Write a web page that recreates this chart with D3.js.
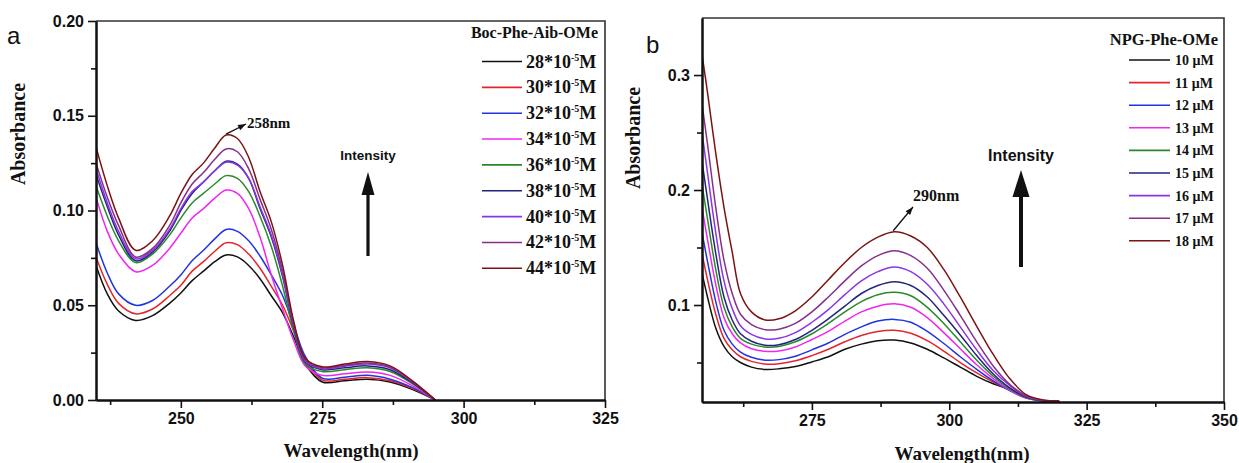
<!DOCTYPE html>
<html><head><meta charset="utf-8">
<script src="https://cdn.jsdelivr.net/npm/d3@7"></script>
<style>body{margin:0;background:#fff}</style>
</head><body>
<svg id="fig" width="1239" height="463"></svg>
<script>
// ---- Panel a: Boc-Phe-Aib-OMe UV spectra ----
const wavelengthsA = [235, 237, 239, 242, 245, 248, 250, 252, 254, 256, 258, 260, 262, 264, 266, 268, 270, 272, 275, 279, 283, 287, 291, 295];
const boc28 = [.071, .056, .047, .042, .0445, .051, .0565, .063, .068, .073, .0765, .0755, .071, .064, .055, .046, .033, .019, .0095, .0102, .011, .0095, .0055, 0];
const boc30 = [.0755, .061, .051, .0455, .048, .055, .0605, .068, .073, .0785, .083, .082, .077, .0695, .060, .050, .036, .021, .0105, .011, .0118, .0102, .006, 0];
const boc32 = [.083, .067, .056, .050, .0525, .060, .066, .0735, .079, .085, .090, .089, .084, .076, .066, .055, .039, .023, .0115, .012, .013, .011, .0065, 0];
const boc34 = [.107, .089, .077, .0677, .071, .080, .088, .096, .101, .1065, .1108, .109, .101, .086, .066, .048, .031, .018, .013, .0138, .0148, .013, .0075, 0];
const boc36 = [.113, .097, .084, .0725, .077, .087, .096, .104, .109, .114, .1184, .117, .110, .097, .081, .060, .036, .019, .015, .016, .017, .015, .0085, 0];
const boc38 = [.119, .102, .087, .0735, .078, .089, .100, .109, .115, .121, .126, .1245, .117, .101, .086, .065, .038, .020, .016, .017, .018, .016, .009, 0];
const boc40 = [.122, .104, .089, .0745, .079, .090, .101, .110, .115, .121, .1255, .124, .117, .102, .087, .066, .039, .0205, .0165, .0178, .019, .017, .0095, 0];
const boc42 = [.125, .107, .092, .0755, .080, .092, .104, .114, .120, .127, .1325, .131, .122, .106, .090, .068, .040, .021, .017, .0183, .0195, .0173, .0097, 0];
const boc44 = [.1335, .113, .096, .079, .084, .097, .109, .119, .125, .133, .1398, .138, .128, .110, .094, .071, .041, .022, .0175, .019, .0203, .018, .010, 0];
const seriesA = [boc28, boc30, boc32, boc34, boc36, boc38, boc40, boc42, boc44];
const legendA = ["28", "30", "32", "34", "36", "38", "40", "42", "44"];
const xTicksA = [250, 275, 300, 325];
const xMinorA = [237.5, 262.5, 287.5, 312.5];
const yTicksA = [0, 0.05, 0.10, 0.15, 0.20];
const yMinorA = [0.025, 0.075, 0.125, 0.175];

// ---- Panel b: NPG-Phe-OMe UV spectra ----
const wavelengthsB = [255, 256, 257.5, 259, 260.5, 262, 264, 266.5, 269, 272, 275, 278, 281, 284, 287, 290, 293, 296, 299, 302, 305, 308, 311, 314, 317, 320];
const npg10 = [.128, .107, .080, .064, .055, .050, .046, .044, .0445, .0465, .0505, .055, .0615, .066, .069, .0695, .067, .0615, .054, .046, .038, .0315, .0265, .0205, .0172, .0165];
const npg11 = [.145, .122, .092, .071, .061, .055, .051, .0487, .049, .0515, .056, .0615, .068, .0735, .077, .078, .0755, .069, .060, .050, .041, .033, .026, .020, .017, .0162];
const npg12 = [.163, .138, .103, .078, .066, .059, .0545, .052, .0525, .0555, .061, .067, .0745, .081, .086, .0875, .085, .077, .0665, .055, .044, .034, .0255, .019, .0165, .016];
const npg13 = [.185, .157, .118, .089, .075, .067, .062, .0597, .060, .0635, .070, .077, .086, .094, .099, .101, .098, .089, .076, .062, .048, .036, .026, .019, .0165, .016];
const npg14 = [.205, .175, .131, .098, .081, .071, .066, .0635, .064, .068, .075, .084, .094, .103, .109, .111, .108, .098, .084, .068, .052, .038, .027, .0195, .0165, .016];
const npg15 = [.225, .192, .145, .107, .087, .075, .0685, .065, .0655, .070, .078, .088, .099, .110, .117, .1203, .117, .107, .091, .074, .056, .040, .028, .020, .0168, .016];
const npg16 = [.250, .215, .163, .121, .097, .082, .0745, .0705, .071, .076, .085, .096, .109, .121, .129, .133, .129, .118, .101, .081, .061, .043, .030, .0205, .017, .016];
const npg17 = [.275, .240, .185, .139, .110, .092, .083, .0785, .079, .084, .094, .107, .121, .134, .143, .1472, .143, .132, .113, .091, .068, .047, .031, .021, .017, .0162];
const npg18 = [.318, .285, .232, .185, .146, .110, .094, .087, .088, .095, .107, .122, .137, .150, .159, .1637, .160, .150, .131, .107, .0815, .057, .036, .022, .0175, .0165];
const seriesB = [npg10, npg11, npg12, npg13, npg14, npg15, npg16, npg17, npg18];
const legendB = ["10", "11", "12", "13", "14", "15", "16", "17", "18"];
const xTicksB = [275, 300, 325, 350];
const xMinorB = [262.5, 287.5, 312.5, 337.5];
const yTicksB = [0.1, 0.2, 0.3];
const yMinorB = [0.05, 0.15, 0.25];

// Line colours shared by both panels (low to high concentration)
const lineColors = ["#111111", "#e3262b", "#2233e0", "#f026f0", "#2a8a2a", "#23237e", "#8a35e6", "#86308a", "#7a1414"];

const SERIF = "'Liberation Serif', 'Times New Roman', serif";
const SANS = "'Liberation Sans', Arial, sans-serif";
const svg = d3.select("#fig");

function drawPanel(cfg) {
  const x = d3.scaleLinear().domain(cfg.xDomain).range([cfg.left, cfg.right]);
  const y = d3.scaleLinear().domain(cfg.yDomain).range([cfg.bottom, cfg.top]);
  const g = svg.append("g");

  const clipId = "clip-" + cfg.id;
  g.append("clipPath").attr("id", clipId).append("rect")
    .attr("x", cfg.left).attr("y", cfg.top)
    .attr("width", cfg.right - cfg.left).attr("height", cfg.bottom - cfg.top);

  // spectra
  const line = d3.line().x((d, i) => x(cfg.wl[i])).y(d => y(d)).curve(d3.curveCatmullRom.alpha(0.5));
  g.append("g").attr("clip-path", `url(#${clipId})`)
    .selectAll("path").data(cfg.series).join("path")
    .attr("d", line).attr("fill", "none")
    .attr("stroke", (d, i) => lineColors[i]).attr("stroke-width", 1.5);

  // frame top/right
  g.append("path")
    .attr("d", `M${cfg.left},${cfg.top}H${cfg.right}V${cfg.bottom}`)
    .attr("fill", "none").attr("stroke", "#333").attr("stroke-width", 1.6);

  // axes
  const styleAxis = sel => {
    sel.select(".domain").attr("stroke", "#111").attr("stroke-width", 2);
    sel.selectAll(".tick line").attr("stroke", "#111").attr("stroke-width", 1.6);
    sel.selectAll(".tick text").attr("font-family", SANS).attr("font-weight", "bold")
      .attr("font-size", 16).attr("fill", "#111");
  };
  const xa = g.append("g").attr("transform", `translate(0,${cfg.bottom})`)
    .call(d3.axisBottom(x).tickValues(cfg.xTicks).tickSize(8).tickSizeOuter(0).tickPadding(5).tickFormat(d3.format("d")));
  styleAxis(xa);
  const xm = g.append("g").attr("transform", `translate(0,${cfg.bottom})`)
    .call(d3.axisBottom(x).tickValues(cfg.xMinor).tickSize(5).tickSizeOuter(0).tickFormat(""));
  styleAxis(xm);
  const ya = g.append("g").attr("transform", `translate(${cfg.left},0)`)
    .call(d3.axisLeft(y).tickValues(cfg.yTicks).tickSize(8).tickSizeOuter(0).tickPadding(4).tickFormat(d3.format(cfg.yFormat)));
  styleAxis(ya);
  const ym = g.append("g").attr("transform", `translate(${cfg.left},0)`)
    .call(d3.axisLeft(y).tickValues(cfg.yMinor).tickSize(5).tickSizeOuter(0).tickFormat(""));
  styleAxis(ym);

  // axis titles
  g.append("text").attr("x", cfg.xTitle[0]).attr("y", cfg.xTitle[1])
    .attr("text-anchor", "middle").attr("font-family", SERIF).attr("font-weight", "bold")
    .attr("font-size", 19).attr("fill", "#111").text("Wavelength(nm)");
  g.append("text").attr("transform", `translate(${cfg.yTitle[0]},${cfg.yTitle[1]}) rotate(-90)`)
    .attr("text-anchor", "middle").attr("font-family", SERIF).attr("font-weight", "bold")
    .attr("font-size", 20).attr("fill", "#111").text("Absorbance");

  // panel letter
  g.append("text").attr("x", cfg.letter[0]).attr("y", cfg.letter[1])
    .attr("font-family", SANS).attr("font-size", cfg.letter[2]).attr("fill", "#111").text(cfg.id);

  return { x, y, g };
}

function arrowHead(g, x1, y1, x2, y2, len, half) {
  const a = Math.atan2(y2 - y1, x2 - x1);
  const bx = x2 - len * Math.cos(a), by = y2 - len * Math.sin(a);
  const px = -Math.sin(a) * half, py = Math.cos(a) * half;
  g.append("path")
    .attr("d", `M${x2},${y2}L${bx + px},${by + py}L${bx - px},${by - py}Z`)
    .attr("fill", "#111");
}

// ---------- panel a ----------
const pa = drawPanel({
  id: "a", wl: wavelengthsA, series: seriesA,
  xDomain: [235, 325], yDomain: [0, 0.2],
  left: 96, right: 605, top: 21, bottom: 400,
  xTicks: xTicksA, xMinor: xMinorA, yTicks: yTicksA, yMinor: yMinorA, yFormat: ".2f",
  xTitle: [351, 457], yTitle: [25, 134], letter: [7, 44, 24]
});

// peak marker
{
  const px = pa.x(258), py = pa.y(0.1398) - 1;
  const tx = 246, ty = 124;
  pa.g.append("line").attr("x1", px).attr("y1", py).attr("x2", tx).attr("y2", ty)
    .attr("stroke", "#111").attr("stroke-width", 1.3);
  arrowHead(pa.g, px, py, tx, ty, 8, 3);
  pa.g.append("text").attr("x", tx + 1).attr("y", ty + 4).attr("font-family", SERIF)
    .attr("font-weight", "bold").attr("font-size", 15).attr("fill", "#111").text("258nm");
}
// intensity arrow
pa.g.append("text").attr("x", 368).attr("y", 160).attr("text-anchor", "middle")
  .attr("font-family", SANS).attr("font-weight", "bold").attr("font-size", 13.5).attr("fill", "#111").text("Intensity");
pa.g.append("line").attr("x1", 368).attr("y1", 256).attr("x2", 368).attr("y2", 190)
  .attr("stroke", "#111").attr("stroke-width", 3.2);
arrowHead(pa.g, 368, 256, 368, 172, 23, 6.5);

// legend a
pa.g.append("text").attr("x", 598).attr("y", 38).attr("text-anchor", "end")
  .attr("font-family", SERIF).attr("font-weight", "bold").attr("font-size", 16).attr("fill", "#111")
  .text("Boc-Phe-Aib-OMe");
legendA.forEach((c, i) => {
  const yy = 61.5 + 25.85 * i;
  pa.g.append("line").attr("x1", 482).attr("x2", 522).attr("y1", yy).attr("y2", yy)
    .attr("stroke", lineColors[i]).attr("stroke-width", 1.6);
  const t = pa.g.append("text").attr("x", 526).attr("y", yy + 6)
    .attr("font-family", SERIF).attr("font-weight", "bold").attr("font-size", 18).attr("fill", "#111");
  t.append("tspan").text(c + "*10");
  t.append("tspan").attr("dy", -7).attr("font-size", 10).text("-5");
  t.append("tspan").attr("dy", 7).text("M");
});

// ---------- panel b ----------
const pb = drawPanel({
  id: "b", wl: wavelengthsB, series: seriesB,
  xDomain: [255, 350], yDomain: [0.01565, 0.3496],
  left: 702, right: 1224, top: 18, bottom: 402,
  xTicks: xTicksB, xMinor: xMinorB, yTicks: yTicksB, yMinor: yMinorB, yFormat: ".1f",
  xTitle: [962, 460], yTitle: [640, 138], letter: [646, 53, 24]
});
{
  const px = pb.x(289.8), py = pb.y(0.1637) - 1;
  const tx = 913, ty = 207;
  pb.g.append("line").attr("x1", px).attr("y1", py).attr("x2", tx).attr("y2", ty)
    .attr("stroke", "#111").attr("stroke-width", 1.3);
  arrowHead(pb.g, px, py, tx, ty, 8, 3);
  pb.g.append("text").attr("x", 913).attr("y", 201).attr("font-family", SERIF)
    .attr("font-weight", "bold").attr("font-size", 16).attr("fill", "#111").text("290nm");
}
pb.g.append("text").attr("x", 1021).attr("y", 161).attr("text-anchor", "middle")
  .attr("font-family", SANS).attr("font-weight", "bold").attr("font-size", 16).attr("fill", "#111").text("Intensity");
pb.g.append("line").attr("x1", 1021).attr("y1", 267).attr("x2", 1021).attr("y2", 192)
  .attr("stroke", "#111").attr("stroke-width", 4);
arrowHead(pb.g, 1021, 267, 1021, 170, 27, 8.5);

pb.g.append("text").attr("x", 1218).attr("y", 45).attr("text-anchor", "end")
  .attr("font-family", SERIF).attr("font-weight", "bold").attr("font-size", 16.5).attr("fill", "#111")
  .text("NPG-Phe-OMe");
legendB.forEach((c, i) => {
  const yy = 60 + 22.6 * i;
  pb.g.append("line").attr("x1", 1129).attr("x2", 1170).attr("y1", yy).attr("y2", yy)
    .attr("stroke", lineColors[i]).attr("stroke-width", 1.6);
  pb.g.append("text").attr("x", 1175).attr("y", yy + 5)
    .attr("font-family", SERIF).attr("font-weight", "bold").attr("font-size", 14).attr("fill", "#111")
    .text(c + " \u03BCM");
});
</script>
</body></html>
